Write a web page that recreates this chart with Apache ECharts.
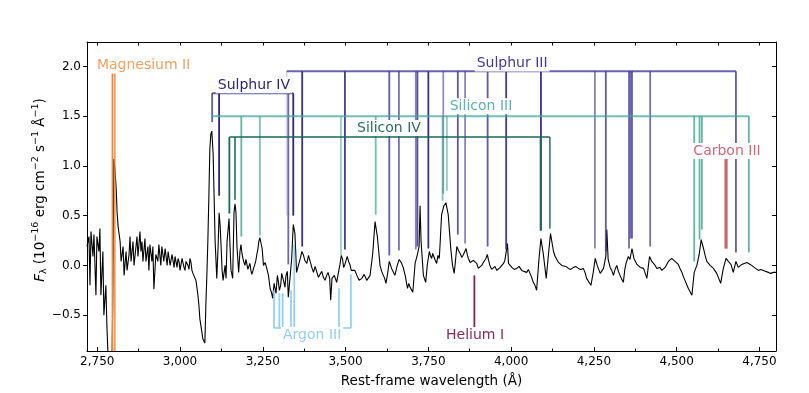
<!DOCTYPE html>
<html><head><meta charset="utf-8">
<script src="https://cdn.jsdelivr.net/npm/echarts@6/dist/echarts.min.js"></script>
<style>html,body{margin:0;padding:0;background:#fff}#c{width:809px;height:393px}</style>
</head><body><div id="c"></div>
<script>
// ---------- spectrum (rest-frame wavelength in Å, flux in 1e-16 erg/cm2/s/Å) ----------
const wavelength = [2719,2725,2728,2731,2737,2740,2746,2749,2755,2758,2761,2767,2770,2776,2779,2782,2788,2794,2797,2800,2803,2807,2810,2813,2819,2822,2828,2831,2837,2840,2846,2849,2852,2858,2861,2867,2870,2873,2879,2882,2885,2888,2894,2897,2903,2906,2909,2915,2918,2921,2927,2933,2936,2942,2945,2951,2955,2961,2964,2970,2976,2982,2985,2991,2994,3000,3006,3012,3018,3024,3030,3036,3042,3048,3054,3057,3060,3066,3069,3075,3078,3081,3084,3087,3090,3093,3096,3100,3103,3106,3111,3115,3118,3121,3124,3127,3130,3136,3139,3142,3148,3151,3154,3159,3163,3166,3169,3172,3177,3181,3184,3190,3196,3202,3208,3214,3220,3226,3232,3238,3241,3248,3252,3262,3272,3280,3287,3294,3300,3307,3314,3320,3327,3332,3337,3342,3347,3352,3360,3368,3372,3383,3393,3403,3413,3423,3433,3443,3452,3455,3459,3473,3483,3491,3498,3505,3513,3522,3534,3549,3564,3574,3582,3589,3596,3604,3614,3622,3632,3639,3649,3662,3674,3687,3695,3703,3710,3717,3722,3725,3728,3735,3742,3747,3753,3760,3767,3775,3783,3790,3797,3803,3810,3818,3828,3836,3846,3856,3864,3871,3881,3891,3901,3911,3921,3928,3936,3946,3957,3967,3977,3985,3989,3992,4002,4017,4032,4047,4057,4067,4077,4084,4090,4097,4106,4113,4119,4128,4138,4148,4158,4173,4188,4203,4218,4228,4241,4248,4254,4260,4269,4279,4286,4289,4293,4299,4309,4319,4329,4339,4347,4354,4359,4365,4371,4380,4390,4400,4410,4418,4425,4435,4445,4455,4465,4475,4485,4495,4505,4516,4525,4535,4546,4553,4561,4568,4574,4581,4591,4601,4611,4621,4633,4641,4649,4656,4664,4671,4679,4686,4697,4712,4722,4734,4747,4762,4777,4792,4800];
const flux = [0.19,0.29,-0.20,0.34,0.09,0.31,-0.30,0.29,0.14,0.37,-0.30,0.14,-0.50,-0.20,-0.59,-0.86,-1.00,-1.10,-0.30,1.07,0.98,0.78,0.53,0.39,0.24,0.04,0.19,-0.10,0.14,-0.05,0.11,0.29,0.04,0.24,0.00,0.19,0.29,0.09,0.34,0.14,0.24,0.04,0.27,0.04,0.19,-0.05,0.21,0.04,0.19,-0.24,0.11,0.04,0.21,0.00,0.19,0.04,0.17,0.00,0.14,0.00,0.11,-0.02,0.09,-0.02,0.07,-0.05,0.07,-0.02,0.04,0.00,0.07,-0.05,-0.10,-0.15,-0.30,-0.40,-0.54,-0.67,-0.74,-0.78,-0.40,-0.10,0.24,0.68,1.17,1.32,1.35,1.12,0.68,0.24,-0.13,0.19,0.53,0.41,0.19,-0.05,-0.15,0.00,-0.13,0.24,0.47,0.19,-0.05,-0.13,0.53,0.62,0.53,0.19,-0.07,0.14,0.21,0.07,0.00,0.04,-0.02,-0.05,-0.08,0.01,0.11,0.24,0.28,0.17,0.00,-0.03,-0.23,-0.33,-0.20,-0.10,-0.25,-0.08,-0.17,-0.10,-0.32,-0.13,0.06,0.41,0.32,-0.07,0.00,0.14,0.11,0.02,0.09,-0.07,-0.03,-0.10,-0.12,-0.10,-0.13,-0.35,-0.13,-0.17,0.01,0.06,0.01,0.09,0.01,-0.07,-0.10,-0.13,-0.15,-0.10,0.12,0.44,0.29,0.00,-0.10,-0.18,0.04,-0.03,-0.10,0.06,-0.02,-0.23,-0.22,-0.27,0.02,0.11,0.19,0.60,0.24,-0.10,-0.17,0.01,0.14,0.07,0.11,0.02,0.07,0.51,0.60,0.63,0.51,0.16,-0.08,0.19,0.12,0.11,0.17,0.07,0.01,0.07,-0.03,0.00,0.04,0.11,0.00,-0.02,-0.05,-0.02,0.02,0.07,0.22,0.02,-0.02,-0.03,-0.05,-0.07,-0.08,-0.17,-0.25,0.06,0.27,0.12,-0.13,0.12,0.32,0.14,0.06,0.01,-0.02,-0.03,-0.02,-0.03,-0.03,-0.13,-0.20,-0.07,0.07,0.00,-0.08,-0.03,0.09,0.36,0.06,-0.02,-0.10,0.00,-0.10,-0.17,0.02,0.09,0.06,0.17,0.07,0.01,-0.02,-0.03,-0.13,0.09,0.04,0.00,-0.02,-0.05,-0.02,0.04,0.07,0.04,0.01,-0.07,-0.15,-0.23,-0.30,-0.07,0.00,0.11,0.26,0.17,0.04,0.00,-0.03,-0.08,-0.18,-0.03,0.07,0.04,0.01,-0.07,0.04,-0.02,0.01,0.03,0.01,-0.02,-0.05,-0.05,-0.07,-0.07,-0.07];
// finer samples read in the noisy stretches of the spectrum
const wavelengthFine = [2997,3003,3009,3015,3021,3027,3033,3039,3045,3051,3187,3193,3199,3205,3211,3217,3223,3229,3235,3257,3267,3276,3284,3290,3297,3304,3310,3317,3324,3356,3364,3377,3388,3398,3408,3418,3428,3438,3447,3466,3478,3487,3494,3509,3517,3528,3541,3556,3569,3609,3618,3627,3644,3656,3668,3680,3691,3699,3738,3756,3763,3771,3779,3786,3823,3832,3841,3851,3860,3868,3876,3886,3896,3906,3916,3924,3932,3941,3951,3962,3972,3981,4009,4024,4039,4052,4062,4072,4133,4143,4153,4165,4180,4195,4210,4223,4304,4314,4324,4334,4343,4385,4395,4405,4414,4430,4440,4450,4460,4470,4480,4490,4500,4510,4520,4586,4596,4606,4616,4627,4637,4645,4692,4704,4717,4728,4740,4754,4769,4784,4796];
const fluxFine = [0.04,-0.03,0.06,-0.05,0.06,-0.04,0.03,-0.08,-0.06,-0.22,0.12,0.03,0.06,-0.04,0.02,-0.09,-0.02,0.05,0.16,0.03,-0.10,-0.27,-0.18,-0.28,-0.16,-0.20,-0.12,-0.22,-0.06,-0.02,0.08,0.05,0.10,-0.02,-0.01,-0.12,-0.06,-0.15,-0.07,-0.10,-0.08,0.10,-0.02,0.04,-0.05,-0.05,-0.15,-0.09,-0.16,-0.06,-0.13,-0.08,-0.02,0.00,0.03,-0.10,-0.18,-0.20,-0.08,0.10,0.12,0.05,0.10,0.25,0.00,0.05,0.15,0.08,0.14,0.10,0.03,0.05,0.02,-0.02,0.03,0.07,0.05,-0.04,-0.01,-0.06,0.00,0.05,-0.04,-0.01,-0.06,-0.04,-0.12,-0.20,0.09,0.03,0.00,-0.01,-0.04,-0.01,-0.04,-0.07,-0.05,-0.04,-0.06,-0.14,-0.05,0.00,-0.04,-0.08,-0.02,0.03,-0.03,-0.02,-0.04,0.01,0.06,0.05,0.03,-0.03,-0.11,0.10,0.02,-0.02,-0.05,-0.13,-0.10,0.02,0.00,0.02,0.04,-0.01,-0.03,-0.04,-0.06,-0.08,-0.06];

// ---------- line identifications: wavelength, flux where the marker stops, relative strength ----------
const mgIIWave = [2796, 2803];
const mgIITip = [-0.95, -0.95];
const mgIIStrength = [1.0, 0.8];
const mgIILevel = 1.94;

const sIVWave = [3097, 3118, 3327, 3342];
const sIVTip = [1.44, 0.70, 0.01, 0.50];
const sIVStrength = [0.75, 1.0, 0.7, 1.0];
const sIVLevel = 1.73;

const sIIIWave = [3322, 3369, 3498, 3632, 3661, 3712, 3717, 3750, 3795, 3839, 3861, 3929, 3985, 4090, 4253, 4286, 4356, 4360, 4365, 4420, 4679];
const sIIITip = [0.50, 0.19, 0.16, 0.10, 0.15, 0.16, 0.19, 0.17, 0.72, 0.31, 0.22, 0.19, 0.16, 0.35, 0.17, 0.14, 0.17, 0.27, 0.27, 0.19, 0.13];
const sIIIStrength = [0.2, 1.0, 0.95, 0.8, 0.7, 0.6, 0.85, 1.0, 0.55, 0.8, 0.6, 0.8, 0.95, 1.0, 0.6, 0.8, 0.7, 0.7, 0.8, 0.7, 0.8];
const sIIILevel = 1.95;

const siIIIWave = [3096, 3185, 3241, 3486, 3591, 3793, 3806, 4553, 4569, 4576, 4718];
const siIIITip = [1.44, 0.29, 0.30, 0.10, 0.51, 0.65, 0.75, 0.04, 0.26, 0.36, 0.13];
const siIIIStrength = [0.3, 0.85, 0.7, 0.55, 0.75, 0.7, 0.6, 0.85, 0.85, 0.85, 0.85];
const siIIILevel = 1.50;

const siIVWave = [3149, 3166, 4089, 4117];
const siIVTip = [0.52, 0.66, 0.35, 0.37];
const siIVStrength = [1.0, 0.85, 1.0, 0.8];
const siIVLevel = 1.29;

const cIIIWave = [4647, 4650, 4651];
const cIIITip = [0.17, 0.17, 0.17];
const cIIIStrength = [1.0, 1.0, 1.0];
const cIIILevel = 1.07;

const arIIIWave = [3284, 3300, 3310, 3335, 3345, 3480, 3516];
const arIIITip = [-0.25, -0.28, -0.28, -0.25, 0.21, -0.23, -0.09];
const arIIIStrength = [0.9, 0.9, 0.9, 0.9, 0.9, 0.9, 0.9];
const arIIILevel = -0.63;

const heIWave = [3889];
const heITip = [-0.10];
const heIStrength = [1.0];
const heILevel = -0.63;

// ---------- tick labels ----------
const xMajorTicks = [2750, 3000, 3250, 3500, 3750, 4000, 4250, 4500, 4750];
const xMinorTicks = [2875, 3125, 3375, 3625, 3875, 4125, 4375, 4625];
const yTicks = [-0.5, 0.0, 0.5, 1.0, 1.5, 2.0];

// ---------- presentation ----------
const groups = [
  {name:'Magnesium II', wave:mgIIWave, tip:mgIITip, strength:mgIIStrength, level:mgIILevel, color:'#EE8833', labelColor:'#F3A060', labelAt:[2890, 2.01]},
  {name:'Sulphur IV', wave:sIVWave, tip:sIVTip, strength:sIVStrength, level:sIVLevel, color:'#2E2585', labelColor:'#2E2575', labelAt:[3223, 1.81]},
  {name:'Sulphur III', wave:sIIIWave, tip:sIIITip, strength:sIIIStrength, level:sIIILevel, color:'#3A2F96', labelColor:'#44399A', labelAt:[4003, 2.03]},
  {name:'Silicon III', wave:siIIIWave, tip:siIIITip, strength:siIIIStrength, level:siIIILevel, color:'#44AA99', labelColor:'#58B6A5', labelAt:[3909, 1.60]},
  {name:'Silicon IV', wave:siIVWave, tip:siIVTip, strength:siIVStrength, level:siIVLevel, color:'#17695A', labelColor:'#2B6F60', labelAt:[3631, 1.38]},
  {name:'Carbon III', wave:cIIIWave, tip:cIIITip, strength:cIIIStrength, level:cIIILevel, color:'#CC6677', labelColor:'#D06878', labelAt:[4652, 1.15]},
  {name:'Argon III', wave:arIIIWave, tip:arIIITip, strength:arIIIStrength, level:arIIILevel, color:'#88CCEE', labelColor:'#92D0EF', labelAt:[3399, -0.70]},
  {name:'Helium I', wave:heIWave, tip:heITip, strength:heIStrength, level:heILevel, color:'#882255', labelColor:'#8A2A5C', labelAt:[3891, -0.70]}
];

const FONT = '"DejaVu Sans", "Liberation Sans", sans-serif';
const X_MIN = 2719, X_MAX = 4800, Y_MIN = -0.86, Y_MAX = 2.245;

const chart = echarts.init(document.getElementById('c'), null, {renderer:'canvas'});

const spectrumPoints = wavelength.map((w,i)=>[w, flux[i]])
  .concat(wavelengthFine.map((w,i)=>[w, fluxFine[i]]))
  .sort((a,b)=>a[0]-b[0]);

const series = [{
  type:'line', data: spectrumPoints, showSymbol:false, symbol:'none',
  lineStyle:{color:'#000', width:1.1}, z:2, clip:true, animation:false
}];

groups.forEach(g => {
  const lvl = g.level, col = g.color;
  series.push({
    type:'custom', z:3, clip:true, animation:false,
    data: g.wave.map((w,i)=>[w, g.tip[i], g.strength[i]]),
    encode:{x:0, y:1},
    renderItem:(params, api) => {
      const w = api.value(0), t = api.value(1), a = api.value(2);
      const p1 = api.coord([w, lvl]), p2 = api.coord([w, t]);
      return {type:'line', shape:{x1:p1[0], y1:p1[1], x2:p2[0], y2:p2[1]},
        style:{stroke:col, lineWidth:1.8, opacity:a}};
    }
  });
  if (g.wave.length > 1) {
    series.push({
      type:'line', z:3, showSymbol:false, symbol:'none', animation:false,
      data:[[Math.min(...g.wave), lvl],[Math.max(...g.wave), lvl]],
      lineStyle:{color:col, width:2, opacity:0.75}
    });
  }
  series.push({
    type:'custom', z:5, animation:false, clip:false,
    data:[g.labelAt], encode:{x:0, y:1},
    renderItem:(params, api) => {
      const p = api.coord([api.value(0), api.value(1)]);
      return {type:'text', x:p[0], y:p[1], z2:10,
        style:{text:g.name, fill:g.labelColor, font:'14px ' + FONT, align:'center', verticalAlign:'middle',
          backgroundColor:'#fff', padding:[1,2]}};
    }
  });
});

const fmtX = v => Math.round(v).toLocaleString('en-US');
const fmtY = v => (v < 0 ? '\u2212' : '') + Math.abs(v).toFixed(1);

chart.setOption({
  animation:false,
  backgroundColor:'#fff',
  grid:{left:87, right:33, top:42, bottom:36, containLabel:false},
  xAxis:[
    {type:'value', min:X_MIN, max:X_MAX, position:'bottom',
     axisLine:{show:true, onZero:false, lineStyle:{color:'#000', width:1}},
     axisTick:{show:true, inside:true, length:4, customValues:xMajorTicks, lineStyle:{color:'#000', width:1}},
     axisLabel:{show:true, customValues:xMajorTicks, formatter:fmtX, color:'#000', fontSize:12, fontFamily:FONT, margin:5},
     splitLine:{show:false},
     name:'Rest-frame wavelength (Å)', nameLocation:'middle', nameGap:23,
     nameTextStyle:{color:'#000', fontSize:13.5, fontFamily:FONT}},
    {type:'value', min:X_MIN, max:X_MAX, position:'bottom',
     axisLine:{show:false, onZero:false},
     axisTick:{show:true, inside:true, length:2.5, customValues:xMinorTicks, lineStyle:{color:'#000', width:1}},
     axisLabel:{show:false}, splitLine:{show:false}},
    {type:'value', min:X_MIN, max:X_MAX, position:'top',
     axisLine:{show:true, onZero:false, lineStyle:{color:'#000', width:1}},
     axisTick:{show:true, inside:true, length:3.5, customValues:xMajorTicks.concat(xMinorTicks), lineStyle:{color:'#000', width:1}},
     axisLabel:{show:false}, splitLine:{show:false}}
  ],
  yAxis:[
    {type:'value', min:Y_MIN, max:Y_MAX, position:'left',
     axisLine:{show:true, onZero:false, lineStyle:{color:'#000', width:1}},
     axisTick:{show:true, inside:false, length:4, customValues:yTicks, lineStyle:{color:'#000', width:1}},
     axisLabel:{show:true, customValues:yTicks, formatter:fmtY, color:'#000', fontSize:12, fontFamily:FONT, margin:6},
     splitLine:{show:false}},
    {type:'value', min:Y_MIN, max:Y_MAX, position:'right',
     axisLine:{show:true, onZero:false, lineStyle:{color:'#000', width:1}},
     axisTick:{show:true, inside:true, length:4, customValues:yTicks, lineStyle:{color:'#000', width:1}},
     axisLabel:{show:false}, splitLine:{show:false}}
  ],
  graphic:[{
    type:'text', x:40, y:190, rotation:Math.PI/2, z:100,
    style:{
      text:'{it|F}{sub|λ}{n| (10}{sup|−16}{n| erg cm}{sup|−2}{n| s}{sup|−1}{n| Å}{sup|−1}{n|)}',
      align:'center', verticalAlign:'middle', fill:'#000',
      rich:{
        it:{fontSize:13.5, fontStyle:'italic', fontFamily:FONT, lineHeight:18, fill:'#000'},
        n:{fontSize:13.5, fontFamily:FONT, lineHeight:18, fill:'#000'},
        sup:{fontSize:9.5, fontFamily:FONT, verticalAlign:'top', fill:'#000'},
        sub:{fontSize:9.5, fontFamily:FONT, verticalAlign:'bottom', fill:'#000'}
      }
    }
  }],
  series
});
</script></body></html>
